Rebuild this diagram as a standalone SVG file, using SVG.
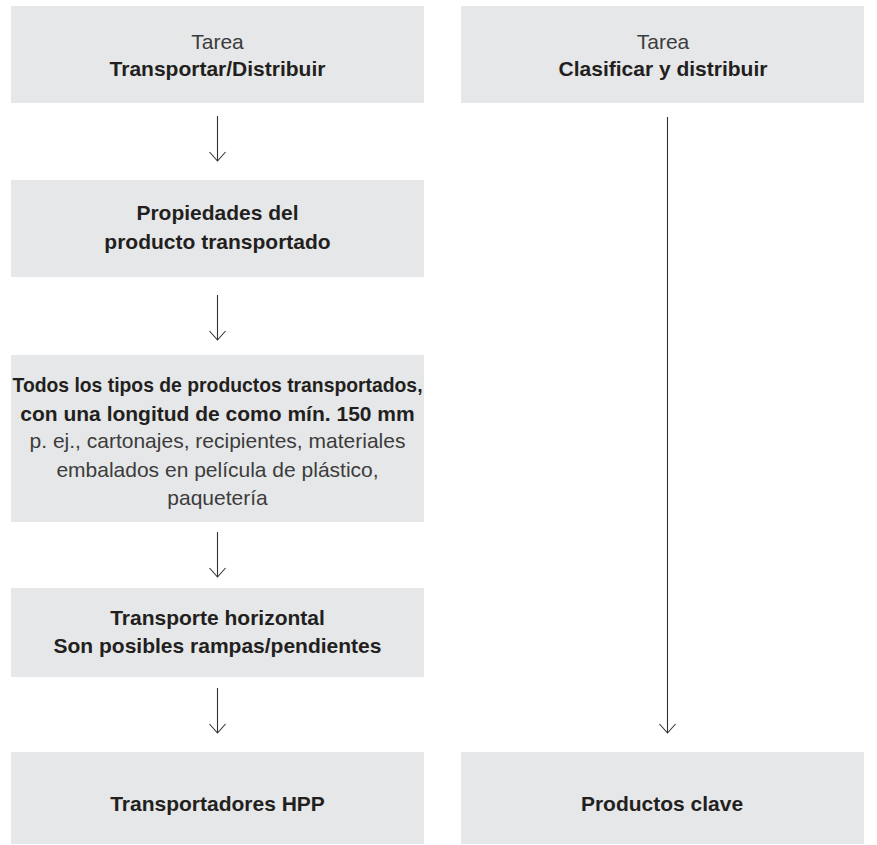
<svg xmlns="http://www.w3.org/2000/svg" width="877" height="845" viewBox="0 0 877 845">
<defs>
<style>
.box{fill:#e6e7e8}
.b{font-family:"Liberation Sans",Arial,sans-serif;font-weight:bold;font-size:21px;fill:#231f20;text-anchor:middle}
.r{font-family:"Liberation Sans",Arial,sans-serif;font-size:21px;fill:#3c3c3c;text-anchor:middle}
.conn{stroke:#333;stroke-width:1.1;fill:none}
</style>
<marker id="v" markerWidth="12" markerHeight="20" refX="10" refY="9" orient="auto" markerUnits="userSpaceOnUse" viewBox="0 0 12 18">
<path d="M1,1 L10,9 L1,17" fill="none" stroke="#333" stroke-width="1.1"/>
</marker>
</defs>
<rect width="877" height="845" fill="#fff"/>
<g id="n-tarea1">
<rect class="box" x="11" y="6" width="413" height="97"/>
<text class="r" x="217.5" y="48.5">Tarea</text>
<text class="b" x="217.5" y="76">Transportar/Distribuir</text>
</g>
<g id="n-tarea2">
<rect class="box" x="461" y="6" width="403" height="97"/>
<text class="r" x="663" y="48.5">Tarea</text>
<text class="b" x="663" y="76">Clasificar y distribuir</text>
</g>
<g id="n-propiedades">
<rect class="box" x="11" y="180" width="413" height="97"/>
<text class="b" x="217.5" y="220">Propiedades del</text>
<text class="b" x="217.5" y="249">producto transportado</text>
</g>
<g id="n-todos">
<rect class="box" x="11" y="355" width="413" height="167"/>
<text class="b" x="217.5" y="391.5" textLength="410" lengthAdjust="spacingAndGlyphs">Todos los tipos de productos transportados,</text>
<text class="b" x="217.5" y="420.5">con una longitud de como mín. 150 mm</text>
<text class="r" x="217.5" y="448">p. ej., cartonajes, recipientes, materiales</text>
<text class="r" x="217.5" y="476.5">embalados en película de plástico,</text>
<text class="r" x="217.5" y="505">paquetería</text>
</g>
<g id="n-transporte">
<rect class="box" x="11" y="588" width="413" height="89"/>
<text class="b" x="217.5" y="625">Transporte horizontal</text>
<text class="b" x="217.5" y="653">Son posibles rampas/pendientes</text>
</g>
<g id="n-hpp">
<rect class="box" x="11" y="752" width="413" height="92"/>
<text class="b" x="217.5" y="811">Transportadores HPP</text>
</g>
<g id="n-clave">
<rect class="box" x="461" y="752" width="403" height="92"/>
<text class="b" x="662" y="811">Productos clave</text>
</g>
<g id="connectors">
<line class="conn" x1="217.5" y1="116" x2="217.5" y2="161" marker-end="url(#v)"/>
<line class="conn" x1="217.5" y1="295" x2="217.5" y2="340" marker-end="url(#v)"/>
<line class="conn" x1="217.5" y1="532" x2="217.5" y2="577" marker-end="url(#v)"/>
<line class="conn" x1="217.5" y1="688" x2="217.5" y2="733" marker-end="url(#v)"/>
<line class="conn" x1="667.5" y1="117" x2="667.5" y2="733" marker-end="url(#v)"/>
</g>
</svg>
